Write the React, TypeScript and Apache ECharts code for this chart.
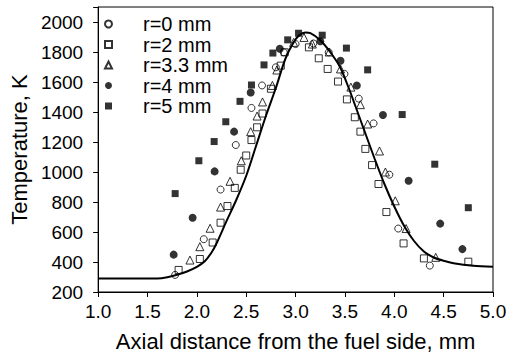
import React, { useEffect, useRef } from "react";
import * as echarts from "echarts";

const xTicks = [1.0, 1.5, 2.0, 2.5, 3.0, 3.5, 4.0, 4.5, 5.0];
const yTicks = [200, 400, 600, 800, 1000, 1200, 1400, 1600, 1800, 2000];

const r0: [number, number][] = [
  [1.78, 314], [2.07, 552], [2.24, 883], [2.394, 1180], [2.553, 1427], [2.66, 1577],
  [2.8, 1698], [2.88, 1798], [3.0, 1853], [3.18, 1857], [3.336, 1798], [3.495, 1654],
  [3.64, 1489], [3.79, 1324], [3.95, 982], [4.04, 623], [4.36, 376],
];
const r2: [number, number][] = [
  [1.815, 347], [2.03, 420], [2.16, 530], [2.24, 662], [2.31, 773], [2.384, 894],
  [2.444, 1015], [2.5, 1110], [2.553, 1213], [2.61, 1298], [2.665, 1390], [2.75, 1555],
  [2.85, 1709], [2.89, 1798], [3.135, 1831], [3.235, 1758], [3.325, 1687], [3.43, 1603],
  [3.52, 1484], [3.6, 1365], [3.657, 1269], [3.707, 1154], [3.775, 1046], [3.84, 920],
  [3.92, 733], [4.094, 524], [4.3, 424], [4.75, 402],
];
const r33: [number, number][] = [
  [1.93, 413], [2.03, 502], [2.134, 625], [2.24, 766], [2.336, 938], [2.45, 1075],
  [2.545, 1269], [2.61, 1373], [2.665, 1467], [2.765, 1577], [2.81, 1680], [2.98, 1864],
  [3.085, 1897], [3.17, 1853], [3.34, 1800], [3.455, 1687], [3.56, 1566], [3.657, 1449],
  [3.73, 1320], [3.85, 1140], [3.91, 1000], [4.01, 808], [4.12, 623], [4.42, 431],
];
const r4: [number, number][] = [
  [1.765, 449], [1.957, 695], [2.18, 1004], [2.377, 1269], [2.545, 1530], [2.84, 1822],
  [3.25, 1872], [3.455, 1742], [3.62, 1577], [3.885, 1380], [4.145, 942], [4.465, 656],
  [4.69, 486],
];
const r5: [number, number][] = [
  [1.78, 856], [2.02, 1075], [2.175, 1203], [2.293, 1335], [2.437, 1471], [2.553, 1580],
  [2.68, 1714], [2.77, 1793], [2.92, 1881], [3.03, 1925], [3.27, 1912], [3.515, 1826],
  [3.73, 1681], [4.08, 1383], [4.41, 1052], [4.75, 762],
];
const model: [number, number][] = [
  [1.0, 290], [1.6, 290], [1.7, 298], [1.8, 315], [1.9, 337], [2.0, 368], [2.08, 405],
  [2.15, 465], [2.2, 525], [2.3, 672], [2.4, 815], [2.5, 975], [2.6, 1175], [2.7, 1375],
  [2.8, 1560], [2.9, 1760], [3.0, 1885], [3.05, 1918], [3.1, 1930], [3.15, 1926],
  [3.25, 1878], [3.35, 1800], [3.45, 1700], [3.55, 1540], [3.6, 1450], [3.7, 1270],
  [3.8, 1090], [3.9, 920], [4.0, 770], [4.1, 640], [4.2, 540], [4.3, 470], [4.4, 430],
  [4.5, 408], [4.6, 392], [4.8, 375], [5.0, 368],
];

const FONT = "'Liberation Sans', Arial, sans-serif";

export default function App() {
  const ref = useRef<HTMLDivElement>(null);
  useEffect(() => {
    if (!ref.current) return;
    const chart = echarts.init(ref.current, undefined, { renderer: "svg" });
    const open = { color: "rgba(0,0,0,0)", borderColor: "#000", borderWidth: 1 };
    const filled = { color: "#000" };
    chart.setOption({
      animation: false,
      backgroundColor: "#fff",
      grid: {
        left: 97, right: 22, top: 7, bottom: 62,
        show: true, borderColor: "#000", borderWidth: 1,
      },
      legend: {
        orient: "vertical",
        left: 99,
        top: 9,
        itemWidth: 7,
        itemHeight: 7,
        itemGap: 0.5,
        textStyle: { fontFamily: FONT, fontSize: 20, color: "#000", padding: [0, 0, 0, 26] },
        data: ["r=0 mm", "r=2 mm", "r=3.3 mm", "r=4 mm", "r=5 mm"],
      },
      xAxis: {
        type: "value",
        min: xTicks[0],
        max: xTicks[xTicks.length - 1],
        interval: 0.5,
        name: "Axial distance from the fuel side, mm",
        nameLocation: "middle",
        nameGap: 38,
        nameTextStyle: { fontFamily: FONT, fontSize: 22, color: "#000" },
        axisLine: { lineStyle: { color: "#000", width: 1 } },
        axisTick: { show: true, length: 5, lineStyle: { color: "#000" } },
        axisLabel: {
          fontFamily: FONT, fontSize: 19, color: "#000", margin: 10,
          formatter: (v: number) => v.toFixed(1),
        },
        splitLine: { show: false },
      },
      yAxis: {
        type: "value",
        min: yTicks[0],
        max: 2100,
        interval: 200,
        name: "Temperature, K",
        nameLocation: "middle",
        nameGap: 64,
        nameTextStyle: { fontFamily: FONT, fontSize: 22, color: "#000" },
        axisLine: { show: true, lineStyle: { color: "#000", width: 1 } },
        axisTick: { show: true, length: 5, lineStyle: { color: "#000" } },
        axisLabel: {
          fontFamily: FONT, fontSize: 19, color: "#000", margin: 15,
          formatter: (v: number) => (yTicks.includes(v) ? String(v) : ""),
        },
        splitLine: { show: false },
      },
      series: [
        {
          name: "model", type: "line", data: model, showSymbol: false, symbol: "none",
          smooth: 0.3, lineStyle: { color: "#000", width: 2 }, z: 1,
        },
        { name: "r=0 mm", type: "scatter", symbol: "circle", symbolSize: 7, data: r0, itemStyle: open, z: 3 },
        { name: "r=2 mm", type: "scatter", symbol: "rect", symbolSize: 7, data: r2, itemStyle: open, z: 3 },
        { name: "r=3.3 mm", type: "scatter", symbol: "triangle", symbolSize: 8, data: r33, itemStyle: open, z: 3 },
        { name: "r=4 mm", type: "scatter", symbol: "circle", symbolSize: 8, data: r4, itemStyle: filled, z: 3 },
        { name: "r=5 mm", type: "scatter", symbol: "rect", symbolSize: 7, data: r5, itemStyle: filled, z: 3 },
      ],
    });
    return () => chart.dispose();
  }, []);
  return <div ref={ref} style={{ width: 515, height: 357, position: "absolute", left: 0, top: 0 }} />;
}
